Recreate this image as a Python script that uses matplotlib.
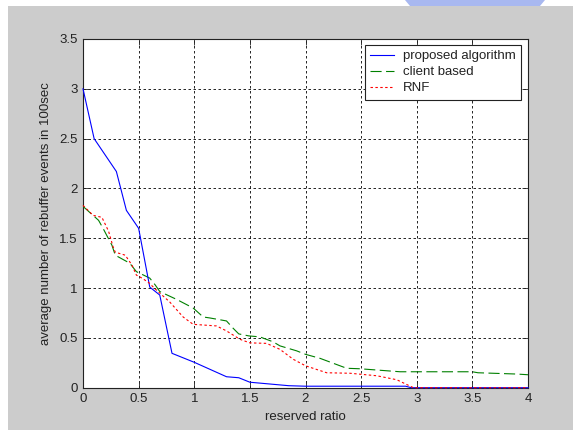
import matplotlib
matplotlib.use("Agg")
import matplotlib.pyplot as plt
from matplotlib.patches import Rectangle, Polygon

# ---- data ----
prop_x = [0.0, 0.1, 0.3, 0.39, 0.5, 0.6, 0.69, 0.8, 1.0, 1.29, 1.4, 1.5, 1.65, 1.85, 2.0, 2.9, 2.95, 3.75, 4.0]
prop_y = [3.0, 2.5, 2.17, 1.78, 1.6, 1.01, 0.93, 0.345, 0.255, 0.11, 0.10, 0.055, 0.04, 0.02, 0.015, 0.015, 0.0, 0.0, 0.0]

client_x = [0.0, 0.14, 0.18, 0.26, 0.29, 0.42, 0.48, 0.6, 0.65, 0.69, 0.84, 0.99, 1.08, 1.14, 1.29, 1.35, 1.4, 1.49,
            1.59, 1.71, 1.77, 1.92, 2.0, 2.13, 2.37, 2.49, 2.85, 3.5, 3.55, 3.9, 4.0]
client_y = [1.82, 1.68, 1.60, 1.43, 1.33, 1.25, 1.165, 1.10, 1.03, 0.965, 0.887, 0.80, 0.71, 0.70, 0.67, 0.596, 0.54, 0.52,
            0.51, 0.46, 0.42, 0.37, 0.335, 0.295, 0.195, 0.19, 0.16, 0.16, 0.15, 0.137, 0.13]

rnf_x = [0.0, 0.09, 0.17, 0.23, 0.27, 0.29, 0.38, 0.44, 0.48, 0.53, 0.59, 0.66, 0.78, 0.9, 0.99, 1.2, 1.29, 1.41, 1.5,
         1.65, 1.77, 1.89, 2.0, 2.19, 2.4, 2.64, 2.82, 2.97, 3.5, 4.0]
rnf_y = [1.83, 1.73, 1.71, 1.57, 1.415, 1.36, 1.33, 1.23, 1.13, 1.10, 1.055, 0.98, 0.86, 0.71, 0.636, 0.62, 0.57, 0.486, 0.45,
         0.445, 0.385, 0.285, 0.22, 0.15, 0.145, 0.12, 0.08, 0.0, 0.0, 0.0]

series_labels = ["proposed algorithm", "client based", "RNF"]
x_ticks = [0, 0.5, 1, 1.5, 2, 2.5, 3, 3.5, 4]
x_tick_labels = ["0", "0.5", "1", "1.5", "2", "2.5", "3", "3.5", "4"]
y_ticks = [0, 0.5, 1, 1.5, 2, 2.5, 3, 3.5]
y_tick_labels = ["0", "0.5", "1", "1.5", "2", "2.5", "3", "3.5"]

plt.rcParams['font.family'] = ['Liberation Sans', 'DejaVu Sans']
FS = 9.5
W, H = 573, 430
fig = plt.figure(figsize=(W / 100, H / 100), dpi=100, facecolor='white')

# gray figure background (with white strips at left and top)
fig.patches.append(Rectangle((8 / W, 0), 1 - 8 / W, 1 - 6 / H, transform=fig.transFigure,
                             facecolor='#cccccc', edgecolor='none', zorder=-10))
fig.patches.append(Polygon([(405 / W, 1), (545 / W, 1), (540 / W, 1 - 6 / H), (410 / W, 1 - 6 / H)],
                           closed=True, transform=fig.transFigure,
                           facecolor='#a8b8f0', edgecolor='none', zorder=-10))

ax = fig.add_axes([83 / W, 1 - 387.7 / H, (528 - 83) / W, (387.7 - 39) / H])
ax.set_zorder(5)
ax.set_facecolor('white')

ax.plot(prop_x, prop_y, color='#0000ff', lw=0.8, label=series_labels[0], zorder=5, clip_on=False)
ax.plot(client_x, client_y, color='#008000', lw=0.8, dashes=(10, 4), label=series_labels[1], zorder=4)
ax.plot(rnf_x, rnf_y, color='#ff0000', lw=0.8, dashes=(2.2, 2.2), label=series_labels[2], zorder=6, clip_on=False)

ax.set_xlim(0, 4)
ax.set_ylim(0, 3.5)
ax.set_xticks(x_ticks)
ax.set_xticklabels(x_tick_labels)
ax.set_yticks(y_ticks)
ax.set_yticklabels(y_tick_labels)
ax.tick_params(direction='in', length=4, width=0.6, top=True, right=True, labelsize=FS,
               colors='#222222', pad=4)
for s in ax.spines.values():
    s.set_linewidth(0.8)
    s.set_color('#222222')
ax.grid(True, color='black', linestyle=(0, (3, 3)), linewidth=0.6)
ax.set_axisbelow(True)

ax.set_xlabel("reserved ratio", fontsize=FS, color='#222222', labelpad=4)
ax.set_ylabel("average number of rebuffer events in 100sec", fontsize=FS, color='#222222', labelpad=5)

leg = ax.legend(loc='upper right', bbox_to_anchor=(0.984, 0.983), borderaxespad=0, fontsize=FS,
                fancybox=False, edgecolor='#222222', framealpha=1, handlelength=1.82,
                handletextpad=0.66, labelspacing=0.28, borderpad=0.4)
leg.get_frame().set_linewidth(0.8)
for t in leg.get_texts():
    t.set_color('#222222')

fig.savefig("out.png", dpi=100, facecolor=fig.get_facecolor())
